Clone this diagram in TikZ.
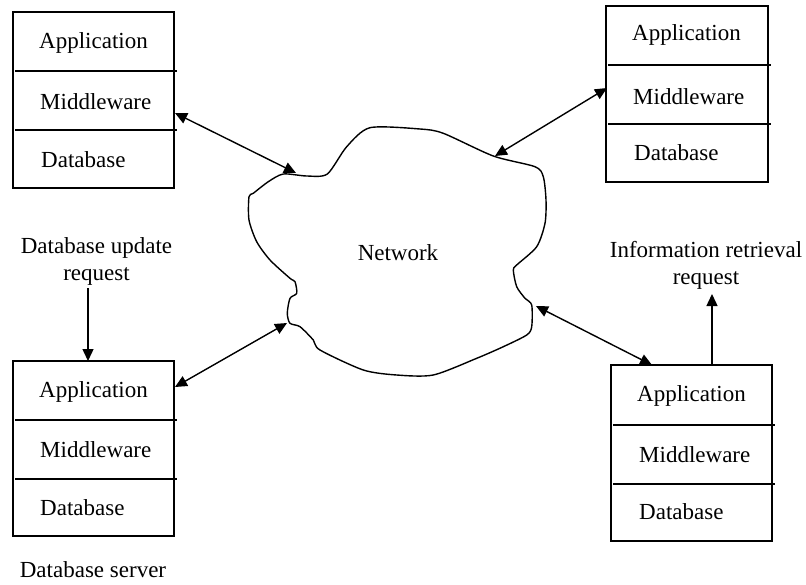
\documentclass[tikz,border=0pt]{standalone}
\usepackage{fontspec}
\setmainfont{Liberation Serif}
\usetikzlibrary{arrows.meta}
\begin{document}
\begin{tikzpicture}[x=1pt,y=-1pt,
  every node/.style={font=\fontsize{23}{27}\selectfont},
  stackbox/.style={draw, line width=1.4pt, inner sep=0pt, rectangle},
  layer/.style={anchor=west, inner sep=0pt},
  divider/.style={line width=1.4pt},
  link/.style={line width=1.4pt, {Triangle[length=12pt,width=11pt]}-{Triangle[length=12pt,width=11pt]}},
  oneway/.style={line width=1.4pt, -{Triangle[length=12pt,width=11pt]}},
  label/.style={align=center, inner sep=0pt}]
\useasboundingbox (0,0) rectangle (806,584);

% boxes
\node[stackbox, minimum width=161pt, minimum height=176pt] (b1) at (93.5,100) {};
\node[stackbox, minimum width=162pt, minimum height=176pt] (b2) at (687,94) {};
\node[stackbox, minimum width=161pt, minimum height=175pt] (b3) at (93.5,448.5) {};
\node[stackbox, minimum width=161pt, minimum height=176pt] (b4) at (691.5,453) {};

% dividers
\draw[divider] (15,71) -- (177,71);
\draw[divider] (15,130) -- (177,130);
\draw[divider] (608,65) -- (771,65);
\draw[divider] (608,124) -- (771,124);
\draw[divider] (15,420) -- (177,420);
\draw[divider] (15,479) -- (177,479);
\draw[divider] (613,425) -- (775,425);
\draw[divider] (613,484) -- (775,484);

% layer texts
\node[layer] (b1a) at (39,43) {Application};
\node[layer] (b1m) at (40,102) {Middleware};
\node[layer] (b1d) at (41,160) {Database};
\node[layer] (b2a) at (632,35) {Application};
\node[layer] (b2m) at (633,97) {Middleware};
\node[layer] (b2d) at (634,153) {Database};
\node[layer] (b3a) at (39,392) {Application};
\node[layer] (b3m) at (40,450) {Middleware};
\node[layer] (b3d) at (40,508) {Database};
\node[layer] (b4a) at (637,396) {Application};
\node[layer] (b4m) at (639,455) {Middleware};
\node[layer] (b4d) at (639,512) {Database};

% cloud
\draw[line width=1.4pt] plot[smooth cycle, tension=0.45] coordinates {
 (283.3,174) (306.7,176) (327.3,174) (346.7,146.7) (370,127.7) (420,129)
 (443.3,133.3) (493.3,156) (535,166.7) (543.3,176.7) (546,200) (545,223.3)
 (536.7,246.7) (516.7,265) (513.3,270) (516.7,286.7) (525,298.3) (531.7,305)
 (531.7,326.7) (526.7,335) (503.3,346.7) (476.7,358.3) (433.3,375) (396.7,375)
 (363.3,370) (320,350) (313.3,340) (300,326.7) (290,323.3) (287.3,313.3)
 (290,298.3) (296.7,293.3) (295,281.7) (290,278.3) (270,260) (256.7,241.7)
 (249,220) (249,196.7) (253.3,193.3) (268.3,181.7)};
\node[label] (net) at (398,253) {Network};

% connection points
\coordinate (c1) at (296,173);
\coordinate (c2) at (495,156);
\coordinate (c3) at (287,323);
\coordinate (c4) at (536,306);
\coordinate (p1) at (175,113);
\coordinate (p2) at (607,88);
\coordinate (p3) at (175,387);
\coordinate (p4) at (652,365);

\draw[link] (p1) -- (c1);
\draw[link] (p2) -- (c2);
\draw[link] (p3) -- (c3);
\draw[link] (p4) -- (c4);

% request labels
\node[label] (upd) at (96.5,261) {Database update\\request};
\node[label] (ret) at (706,265) {Information retrieval\\request};
\coordinate (updfoot) at (88,288);
\coordinate (b3top) at (88,361);
\coordinate (b4top) at (712,365);
\coordinate (retfoot) at (712,294);
\draw[oneway] (updfoot) -- (b3top);
\draw[oneway] (b4top) -- (retfoot);

\node[label] (srv) at (93,570) {Database server};
\end{tikzpicture}
\end{document}
